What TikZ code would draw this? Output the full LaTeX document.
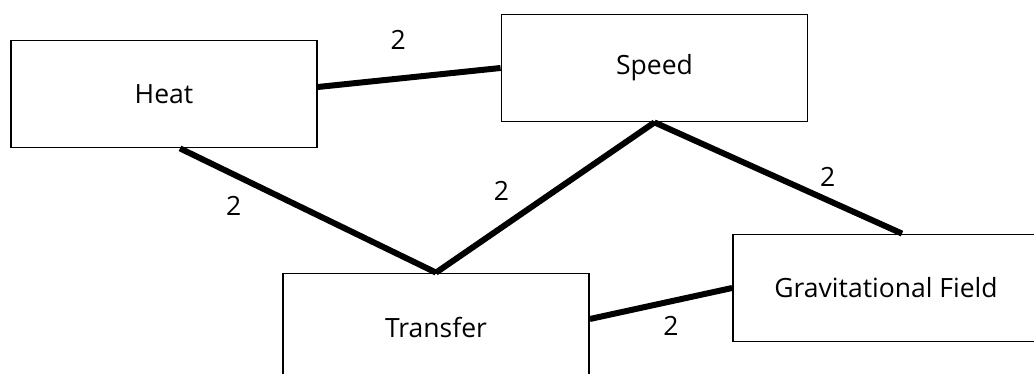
\documentclass[tikz,border=0pt]{standalone}
\usepackage{fontspec}
\setmainfont{Open Sans}
\usetikzlibrary{positioning}

\begin{document}
\begin{tikzpicture}[x=1pt, y=1pt,
    concept/.style={rectangle, draw, line width=1.8pt, minimum width=306pt, minimum height=107pt, text centered, font=\fontsize{26.5}{30}\selectfont},
    link/.style={line width=6pt},
    weight/.style={font=\fontsize{26.5}{30}\selectfont}]
    \useasboundingbox (0,0) rectangle (1034,374);
    % Nodes
    \node[concept] (heat) at (164,280) {Heat};
    \node[concept] (speed) at (654.5,306) {Speed};
    \node[concept] (transfer) at (436,47) {Transfer};
    \node[concept] (grav) at (886,86) {Gravitational Field};

    % Links
    \draw[link] ([yshift=7pt]heat.east) -- node[weight, pos=.44, yshift=39pt] {2} (speed.west);
    \draw[link] ([xshift=16pt]heat.south) -- node[weight, pos=.21, yshift=-31pt] {2} (transfer.north);
    \draw[link] (transfer.north) -- node[weight, pos=.3, yshift=37pt] {2} (speed.south);
    \draw[link] (speed.south) -- node[weight, pos=.7, yshift=23pt] {2} ([xshift=16pt]grav.north);
    \draw[link] ([yshift=8pt]transfer.east) -- node[weight, pos=.57, yshift=-25pt] {2} (grav.west);

\end{tikzpicture}
\end{document}
